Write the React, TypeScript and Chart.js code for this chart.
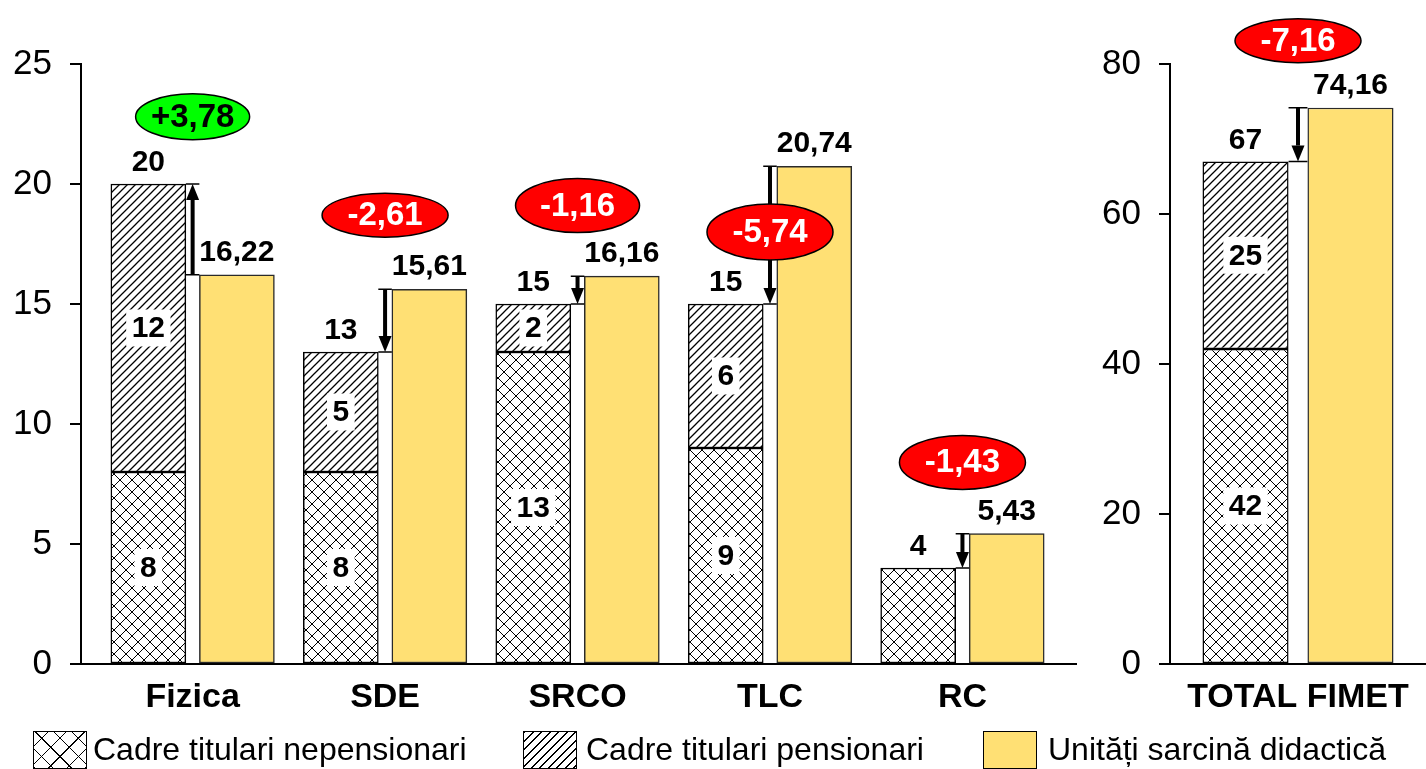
import { useEffect, useRef } from 'react';
import { Chart, registerables } from 'chart.js';

Chart.register(...registerables);

const FONT = '"Liberation Sans", Arial, Helvetica, sans-serif';

// ---- data (left panel) ----
const categories = ['Fizica', 'SDE', 'SRCO', 'TLC', 'RC'];
const nepensionari = [8, 8, 13, 9, 4];
const pensionari = [12, 5, 2, 6, 0];
const unitati = [16.22, 15.61, 16.16, 20.74, 5.43];
const badgeAt = [22.8, 18.7, 19.1, 18.0, 8.4];
const leftTickMax = 25;
const leftTickStep = 5;

// ---- data (right panel) ----
const totalCategories = ['TOTAL FIMET'];
const totalNepensionari = [42];
const totalPensionari = [25];
const totalUnitati = [74.16];
const totalBadgeAt = [83.1];
const rightTickMax = 80;
const rightTickStep = 20;

const seriesNames = ['Cadre titulari nepensionari', 'Cadre titulari pensionari', 'Unități sarcină didactică'];

const YELLOW = '#ffe074';

function crossPattern(ctx: CanvasRenderingContext2D) {
  const s = 12;
  const c = document.createElement('canvas');
  c.width = s; c.height = s;
  const g = c.getContext('2d')!;
  g.fillStyle = '#fff'; g.fillRect(0, 0, s, s);
  g.strokeStyle = '#000'; g.lineWidth = 1;
  g.beginPath();
  g.moveTo(0, 0); g.lineTo(s, s);
  g.moveTo(s, 0); g.lineTo(0, s);
  g.stroke();
  return ctx.createPattern(c, 'repeat')!;
}

function diagPattern(ctx: CanvasRenderingContext2D) {
  const s = 8;
  const c = document.createElement('canvas');
  c.width = s; c.height = s;
  const g = c.getContext('2d')!;
  g.fillStyle = '#fff'; g.fillRect(0, 0, s, s);
  g.strokeStyle = '#000'; g.lineWidth = 1.3;
  g.beginPath();
  g.moveTo(0, s); g.lineTo(s, 0);
  g.moveTo(-2, 2); g.lineTo(2, -2);
  g.moveTo(s - 2, s + 2); g.lineTo(s + 2, s - 2);
  g.stroke();
  return ctx.createPattern(c, 'repeat')!;
}

const fmt = (v: number) => (Number.isInteger(v) ? String(v) : v.toFixed(2).replace('.', ','));
const fmtSigned = (v: number) => (v > 0 ? '+' : '') + v.toFixed(2).replace('.', ',');

function boxLabel(ctx: CanvasRenderingContext2D, text: string, x: number, y: number) {
  ctx.font = `bold 30px ${FONT}`;
  const w = ctx.measureText(text).width + 11;
  const h = 37;
  ctx.fillStyle = '#fff';
  ctx.fillRect(x - w / 2, y - h / 2, w, h);
  ctx.fillStyle = '#000';
  ctx.textAlign = 'center';
  ctx.textBaseline = 'middle';
  ctx.fillText(text, x, y + 1);
}

function overlayPlugin(nep: number[], pen: number[], unit: number[], badges: number[], rx: number[], ry: number[]) {
  return {
    id: 'overlay',
    afterDatasetsDraw(chart: any) {
      const ctx: CanvasRenderingContext2D = chart.ctx;
      const yScale = chart.scales.y;
      const mN = chart.getDatasetMeta(0);
      const mP = chart.getDatasetMeta(1);
      const mU = chart.getDatasetMeta(2);
      ctx.save();
      nep.forEach((_, i) => {
        const bN = mN.data[i];
        const bP = mP.data[i];
        const bU = mU.data[i];
        const total = nep[i] + pen[i];
        if (nep[i] > 0 && pen[i] > 0) {
          boxLabel(ctx, fmt(nep[i]), bN.x, (bN.y + bN.base) / 2);
          boxLabel(ctx, fmt(pen[i]), bP.x, (bP.y + bP.base) / 2);
        }
        ctx.font = `bold 30px ${FONT}`;
        ctx.fillStyle = '#000';
        ctx.textAlign = 'center';
        ctx.textBaseline = 'alphabetic';
        ctx.fillText(fmt(total), bP.x, bP.y - 13);
        ctx.fillText(fmt(unit[i]), bU.x, bU.y - 14);

        // arrow between bars
        const gapL = bP.x + bP.width / 2;
        const gapR = bU.x - bU.width / 2;
        const ax = (gapL + gapR) / 2;
        const y0 = bU.y;
        const y1 = bP.y;
        ctx.strokeStyle = '#000';
        ctx.lineWidth = 1.5;
        ctx.beginPath();
        ctx.moveTo(gapL, y0); ctx.lineTo(gapR, y0);
        ctx.moveTo(gapL, y1); ctx.lineTo(gapR, y1);
        ctx.stroke();
        const d = Math.sign(y1 - y0) || 1;
        const head = 16;
        ctx.lineWidth = 4;
        ctx.beginPath();
        ctx.moveTo(ax, y0);
        ctx.lineTo(ax, y1 - d * head);
        ctx.stroke();
        ctx.fillStyle = '#000';
        ctx.beginPath();
        ctx.moveTo(ax, y1);
        ctx.lineTo(ax - 6.5, y1 - d * head);
        ctx.lineTo(ax + 6.5, y1 - d * head);
        ctx.closePath();
        ctx.fill();

        // difference badge
        const diff = total - unit[i];
        const by = yScale.getPixelForValue(badges[i]);
        ctx.beginPath();
        ctx.ellipse(ax, by, rx[i], ry[i], 0, 0, Math.PI * 2);
        ctx.fillStyle = diff > 0 ? '#00ff00' : '#ff0000';
        ctx.fill();
        ctx.lineWidth = 1.5;
        ctx.strokeStyle = '#000';
        ctx.stroke();
        ctx.font = `bold 33px ${FONT}`;
        ctx.fillStyle = diff > 0 ? '#000' : '#fff';
        ctx.textAlign = 'center';
        ctx.textBaseline = 'middle';
        ctx.fillText(fmtSigned(diff), ax, by + 1);
      });
      ctx.restore();
    },
  };
}

const tickFont = { family: FONT, size: 35 };
const catFont = { family: FONT, size: 34, weight: 'bold' as const };

export default function App() {
  const leftRef = useRef<HTMLCanvasElement>(null);
  const rightRef = useRef<HTMLCanvasElement>(null);

  useEffect(() => {
    document.body.style.margin = '0';
    const lc = leftRef.current!;
    const rc = rightRef.current!;
    const lctx = lc.getContext('2d')!;
    const rctx = rc.getContext('2d')!;
    const HATCH_OFF = 0.23;

    const left = new Chart(lc, {
      type: 'bar',
      data: {
        datasets: [
          {
            label: seriesNames[0],
            data: nepensionari.map((v, i) => ({ x: i - HATCH_OFF, y: v })),
            backgroundColor: crossPattern(lctx),
            borderColor: '#000', borderWidth: 1.5, borderSkipped: false, stack: 'a',
          },
          {
            label: seriesNames[1],
            data: pensionari.map((v, i) => ({ x: i - HATCH_OFF, y: v })),
            backgroundColor: diagPattern(lctx),
            borderColor: '#000', borderWidth: 1.5, borderSkipped: false, stack: 'a',
          },
          {
            label: seriesNames[2],
            data: unitati.map((v, i) => ({ x: i + HATCH_OFF, y: v })),
            backgroundColor: YELLOW,
            borderColor: '#2a2a2a', borderWidth: 1.5, borderSkipped: false, stack: 'b',
          },
        ] as any,
      },
      options: {
        animation: false,
        responsive: false,
        maintainAspectRatio: false,
        datasets: { bar: { grouped: false, barThickness: 75 } } as any,
        layout: { padding: { top: 64, right: 14, left: 0, bottom: 0 } },
        plugins: { legend: { display: false }, tooltip: { enabled: false } },
        scales: {
          x: {
            type: 'linear',
            min: -0.58,
            max: 4.59,
            offset: false,
            grid: { display: false, drawTicks: false },
            border: { color: '#000', width: 2 },
            ticks: {
              font: catFont, color: '#000', padding: 13, autoSkip: false, maxRotation: 0,
              callback: (v: any) => categories[Math.round(Number(v))] ?? '',
            },
            afterBuildTicks: (s: any) => { s.ticks = categories.map((_, i) => ({ value: i })); },
            afterFit: (s: any) => { s.height = 76; },
          },
          y: {
            min: 0, max: leftTickMax, stacked: true,
            ticks: { stepSize: leftTickStep, font: tickFont, color: '#000', padding: 18 },
            grid: { drawOnChartArea: false, color: '#000', lineWidth: 2, tickLength: 11 },
            border: { color: '#000', width: 2 },
            afterFit: (s: any) => { s.width = 81; },
          },
        } as any,
      },
      plugins: [overlayPlugin(nepensionari, pensionari, unitati, badgeAt, [57, 63, 62, 63, 63], [23, 22, 27, 28, 27])],
    });

    const right = new Chart(rc, {
      type: 'bar',
      data: {
        labels: totalCategories,
        datasets: [
          { label: seriesNames[0], data: totalNepensionari, backgroundColor: crossPattern(rctx), borderColor: '#000', borderWidth: 1.5, borderSkipped: false, stack: 'a' },
          { label: seriesNames[1], data: totalPensionari, backgroundColor: diagPattern(rctx), borderColor: '#000', borderWidth: 1.5, borderSkipped: false, stack: 'a' },
          { label: seriesNames[2], data: totalUnitati, backgroundColor: YELLOW, borderColor: '#2a2a2a', borderWidth: 1.5, borderSkipped: false, stack: 'b' },
        ] as any,
      },
      options: {
        animation: false,
        responsive: false,
        maintainAspectRatio: false,
        datasets: { bar: { categoryPercentage: 0.82, barPercentage: 0.82 } } as any,
        layout: { padding: { top: 64, right: 0, left: 0, bottom: 0 } },
        plugins: { legend: { display: false }, tooltip: { enabled: false } },
        scales: {
          x: {
            grid: { display: false, drawTicks: false },
            border: { color: '#000', width: 2 },
            ticks: { font: catFont, color: '#000', padding: 13, autoSkip: false, maxRotation: 0 },
            afterFit: (s: any) => { s.height = 76; },
          },
          y: {
            min: 0, max: rightTickMax, stacked: true,
            ticks: { stepSize: rightTickStep, font: tickFont, color: '#000', padding: 18 },
            grid: { drawOnChartArea: false, color: '#000', lineWidth: 2, tickLength: 11 },
            border: { color: '#000', width: 2 },
            afterFit: (s: any) => { s.width = 80; },
          },
        } as any,
      },
      plugins: [overlayPlugin(totalNepensionari, totalPensionari, totalUnitati, totalBadgeAt, [63], [22])],
    });

    return () => {
      left.destroy();
      right.destroy();
    };
  }, []);

  const swatchBase: any = { position: 'absolute', top: 731, width: 54, height: 38, border: '1.5px solid #000', boxSizing: 'border-box' };
  const textBase: any = { position: 'absolute', top: 731, fontSize: 32, lineHeight: '37px', color: '#000', whiteSpace: 'nowrap', fontFamily: FONT };

  return (
    <div style={{ position: 'relative', width: 1426, height: 769, overflow: 'hidden', background: '#fff' }}>
      <canvas ref={leftRef} width={1090} height={740} style={{ position: 'absolute', left: 0, top: 0 }} />
      <canvas ref={rightRef} width={336} height={740} style={{ position: 'absolute', left: 1090, top: 0 }} />
      <div
        style={{
          ...swatchBase, left: 33, backgroundColor: '#fff',
          backgroundImage: 'repeating-linear-gradient(45deg, #000 0 1px, transparent 1px 13px), repeating-linear-gradient(-45deg, #000 0 1px, transparent 1px 13px)',
        }}
      />
      <div style={{ ...textBase, left: 93 }}>{seriesNames[0]}</div>
      <div
        style={{
          ...swatchBase, left: 523, backgroundColor: '#fff',
          backgroundImage: 'repeating-linear-gradient(135deg, #000 0 1.3px, transparent 1.3px 6px)',
        }}
      />
      <div style={{ ...textBase, left: 586 }}>{seriesNames[1]}</div>
      <div style={{ ...swatchBase, left: 983, backgroundColor: YELLOW }} />
      <div style={{ ...textBase, left: 1048 }}>{seriesNames[2]}</div>
    </div>
  );
}
